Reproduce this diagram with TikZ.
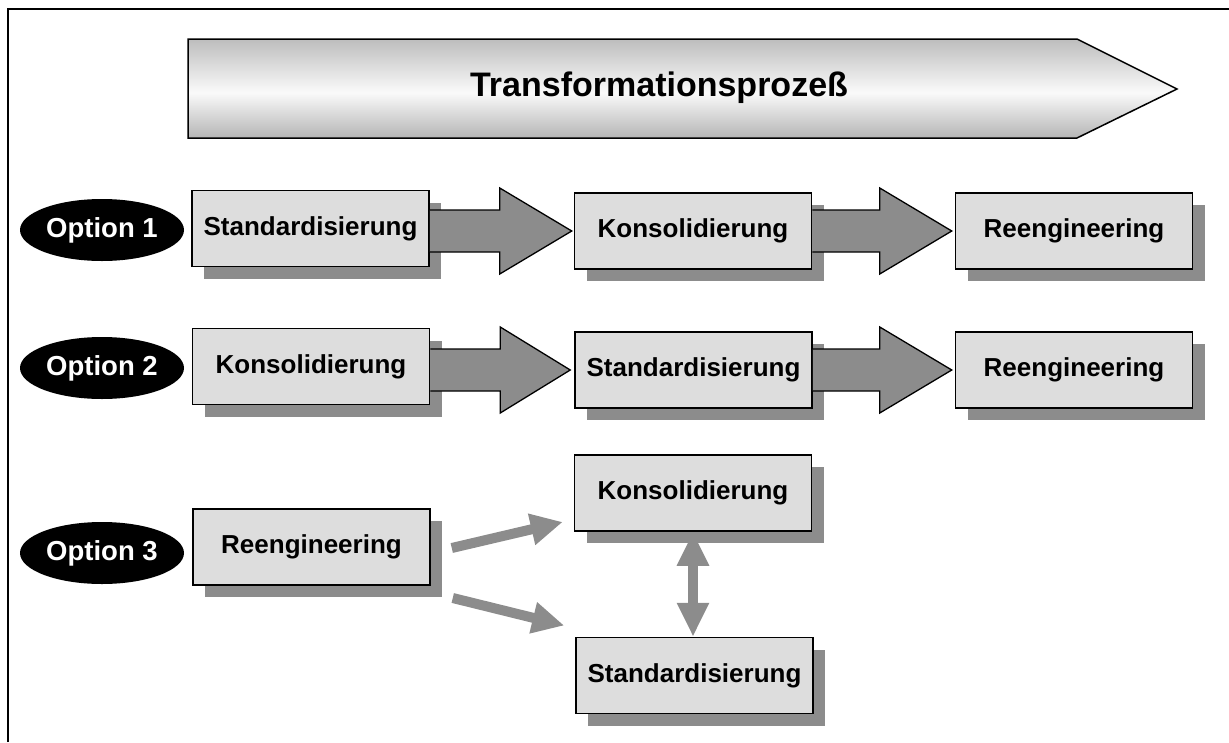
\documentclass[tikz,border=0pt]{standalone}
\usepackage{fontspec}
\setmainfont{Liberation Sans}
\usetikzlibrary{shapes.geometric,shadows,calc,arrows.meta}
\definecolor{boxfill}{HTML}{DDDDDD}
\definecolor{shadegray}{HTML}{8C8C8C}
\definecolor{mtop}{HTML}{6A6A6A}
\definecolor{mupper}{HTML}{BDBDBD}
\definecolor{mmid}{HTML}{FAFAFA}
\definecolor{mlower}{HTML}{B5B5B5}
\definecolor{mbot}{HTML}{7E7E7E}
\pgfdeclareverticalshading{metal}{100bp}{color(0bp)=(mbot); color(25bp)=(mlower); color(48bp)=(mmid); color(75bp)=(mupper); color(100bp)=(mtop)}
\begin{document}
\begin{tikzpicture}[x=1pt,y=-1pt,
  stepbox/.style={draw=black, line width=1.5pt, fill=boxfill,
    minimum width=237pt, minimum height=76pt, inner sep=0pt,
    font=\fontsize{26}{30}\selectfont\bfseries,
    drop shadow={shadow xshift=12pt, shadow yshift=-12pt, fill=shadegray, opacity=1}},
  optell/.style={ellipse, fill=black, minimum width=164pt, minimum height=62pt,
    inner sep=0pt, text=white, font=\fontsize{27.5}{30}\selectfont\bfseries},
  blockarrow/.style={draw=black, line width=1.3pt, fill=shadegray, line join=miter},
  thinarrow/.style={draw=shadegray, line width=10pt, -{Triangle[length=32pt,width=30pt]}},
  dblarrow/.style={draw=shadegray, line width=10pt, {Triangle[length=34pt,width=30pt]}-{Triangle[length=34pt,width=30pt]}},
  frame/.style={draw=black, line width=2pt},
  titlefont/.style={font=\fontsize{34}{40}\selectfont\bfseries}
]
\useasboundingbox (0,0) rectangle (1229,742);

% frame
\draw[frame] (8,742) -- (8,9) -- (1229,9);

% big process arrow
\path[shading=metal, draw=black, line width=1.5pt, line join=miter]
  (188,39) -- (1077,39) -- (1177,89) -- (1077,138) -- (188,138) -- cycle;
\node[titlefont] (title) at (659,88) {Transformationsprozeß};

% options
\node[optell] (o1) at (102,230) {Option 1};
\node[optell] (o2) at (102,368) {Option 2};
\node[optell] (o3) at (102,553) {Option 3};

% row 1
\node[stepbox] (s1) at (310.5,228.5) {Standardisierung};
\node[stepbox] (k1) at (693,231) {Konsolidierung};
\node[stepbox] (r1) at (1074,231) {Reengineering};

% row 2
\node[stepbox] (k2) at (311,366.5) {Konsolidierung};
\node[stepbox] (s2) at (693.5,370) {Standardisierung};
\node[stepbox] (r2) at (1074,370) {Reengineering};

% row 3
\node[stepbox] (r3) at (311.5,547) {Reengineering};
\node[stepbox] (k3) at (693,493) {Konsolidierung};
\node[stepbox] (s3) at (694.5,675.5) {Standardisierung};

% block arrows row 1
\draw[blockarrow] ($(s1.east|-k1.west)+(0,-21)$) -- ($(k1.west)+(-74,-21)$) -- ($(k1.west)+(-74,-43)$)
  -- ($(k1.west)+(-2,0)$) -- ($(k1.west)+(-74,43)$) -- ($(k1.west)+(-74,21)$) -- ($(s1.east|-k1.west)+(0,21)$);
\draw[blockarrow] ($(k1.east|-r1.west)+(0,-21)$) -- ($(r1.west)+(-75,-21)$) -- ($(r1.west)+(-75,-43)$)
  -- ($(r1.west)+(-3,0)$) -- ($(r1.west)+(-75,43)$) -- ($(r1.west)+(-75,21)$) -- ($(k1.east|-r1.west)+(0,21)$);

% block arrows row 2
\draw[blockarrow] ($(k2.east|-s2.west)+(0,-21)$) -- ($(s2.west)+(-74,-21)$) -- ($(s2.west)+(-74,-43)$)
  -- ($(s2.west)+(-4,0)$) -- ($(s2.west)+(-74,43)$) -- ($(s2.west)+(-74,21)$) -- ($(k2.east|-s2.west)+(0,21)$);
\draw[blockarrow] ($(s2.east|-r2.west)+(0,-21)$) -- ($(r2.west)+(-75,-21)$) -- ($(r2.west)+(-75,-43)$)
  -- ($(r2.west)+(-3,0)$) -- ($(r2.west)+(-75,43)$) -- ($(r2.west)+(-75,21)$) -- ($(s2.east|-r2.west)+(0,21)$);

% row 3 arrows
\draw[thinarrow] ($(r3.east)+(21,1)$) -- ($(k3.west)+(-11,29)$);
\draw[thinarrow] ($(r3.east)+(22,51)$) -- ($(s3.west)+(-11,-50)$);
\draw[dblarrow] (k3.south) -- (k3.south|-s3.north);
\end{tikzpicture}
\end{document}
